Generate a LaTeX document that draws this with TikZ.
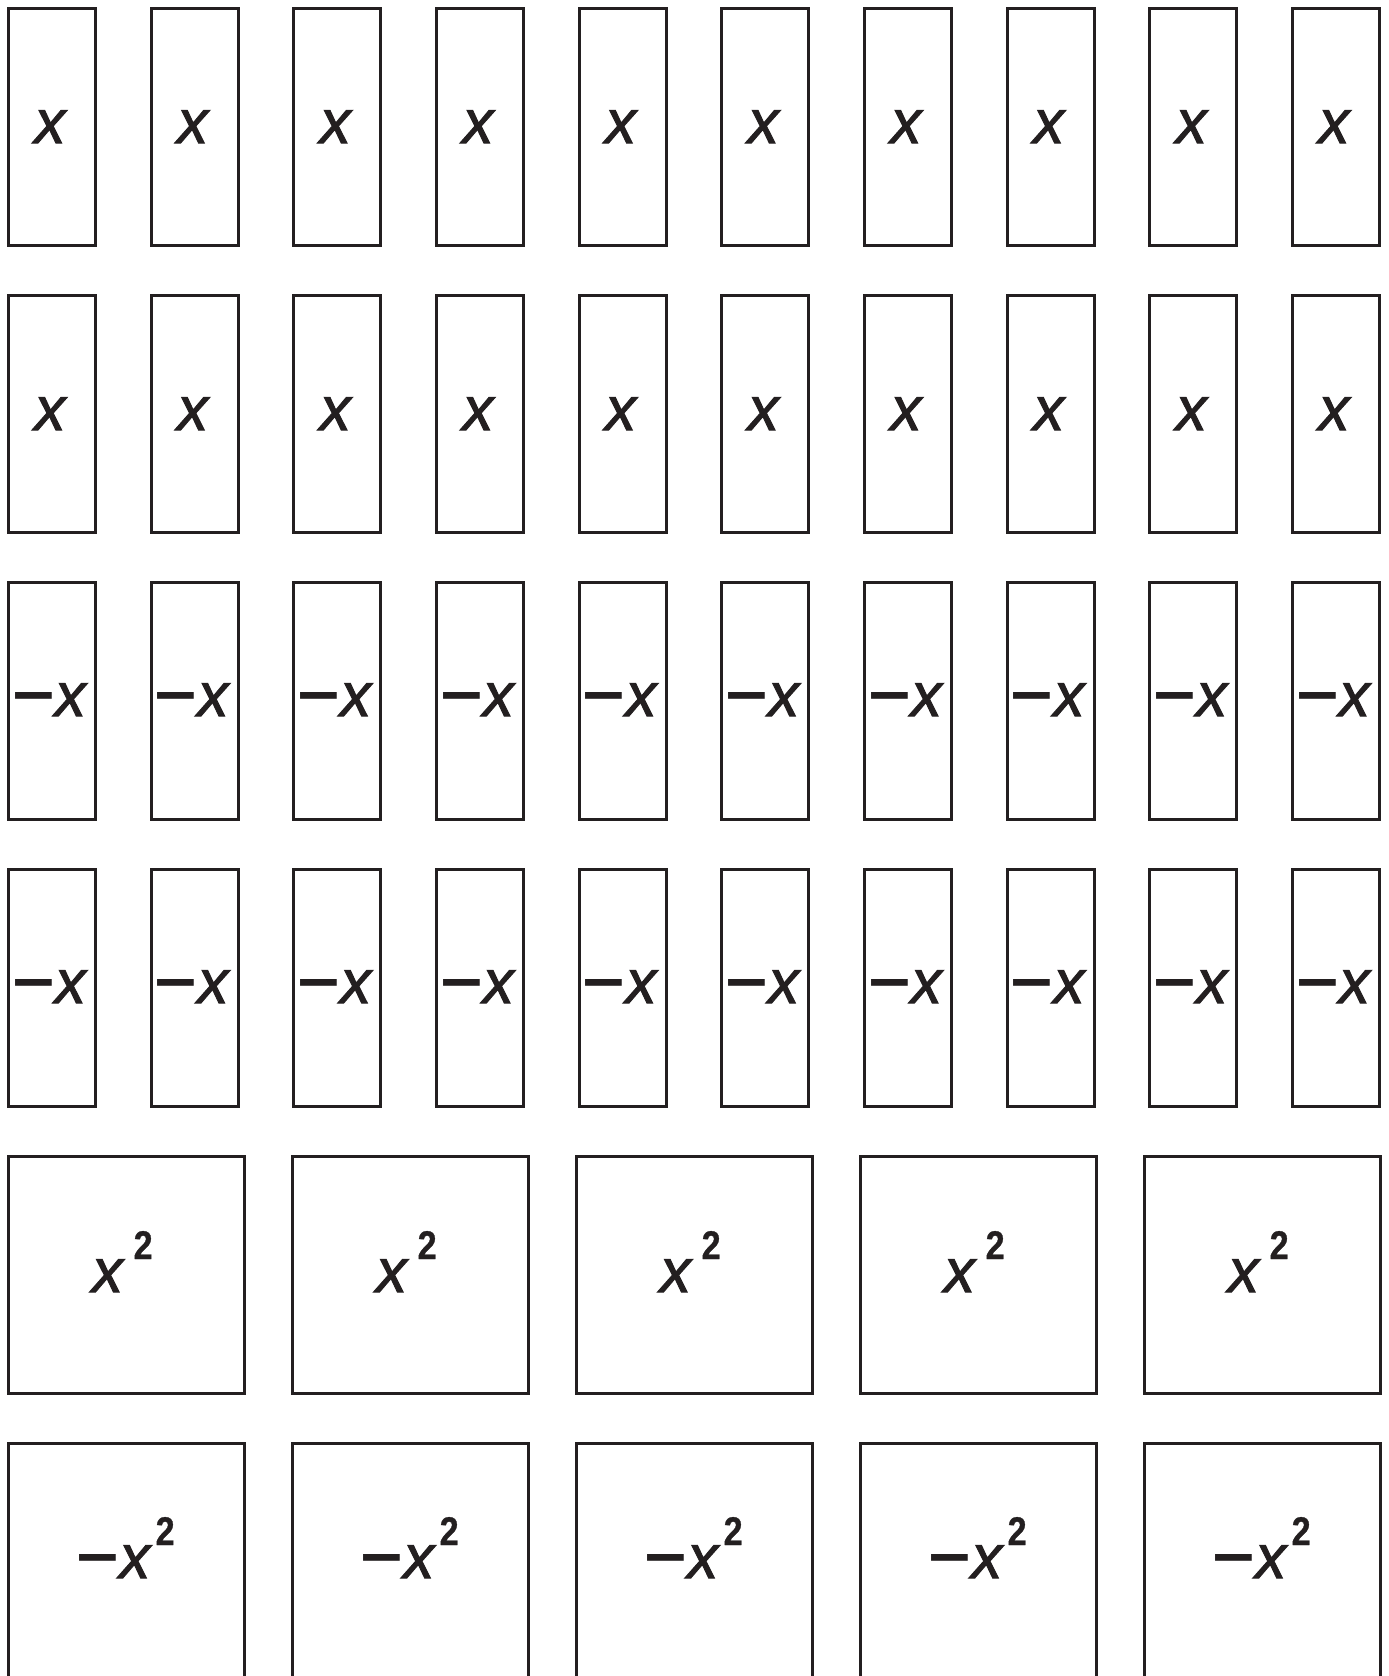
\documentclass[tikz,border=0pt]{standalone}
\usepackage{fontspec}
\setmainfont{Liberation Sans}
\newfontfamily\xfont{Liberation Sans}[FakeBold=1.6]
\newfontfamily\minusfont{Liberation Sans}[FakeStretch=1.18]
\newfontfamily\digitfont{Liberation Sans}[FakeStretch=0.85,FakeBold=0.8]
\definecolor{ink}{HTML}{231F20}
\newcommand{\mns}{{\minusfont\upshape\bfseries\symbol{"2212}}}
\begin{document}
\begin{tikzpicture}[x=1pt,y=-1pt,
  tile/.style={draw=ink, line width=3pt, inner sep=0pt, fill=white},
  rtile/.style={tile, minimum width=87pt, minimum height=237pt},
  stile/.style={tile, minimum width=236pt, minimum height=237pt},
  xlbl/.style={inner sep=0pt, text=ink, font=\fontsize{62}{62}\selectfont\xfont\itshape},
  twolbl/.style={inner sep=0pt, text=ink, anchor=base west, font=\fontsize{40}{40}\selectfont\digitfont\bfseries}
]
\useasboundingbox (0,0) rectangle (1389,1676);
\clip (0,0) rectangle (1389,1676);
\fill[white] (0,0) rectangle (1389,1676);
% rows of x and -x tiles
\foreach \i in {0,...,9} {
  \pgfmathsetmacro\cx{52+142.67*\i}
  \node[rtile] (a\i) at (\cx,127) {};
  \node[xlbl, anchor=base] (ta\i) at (\cx-2,143) {x};
  \node[rtile] (b\i) at (\cx,414) {};
  \node[xlbl, anchor=base] (tb\i) at (\cx-2,430) {x};
  \node[rtile] (c\i) at (\cx,701) {};
  \node[xlbl, anchor=base] (tc\i) at (\cx-3,716) {\mns x};
  \node[rtile] (d\i) at (\cx,988) {};
  \node[xlbl, anchor=base] (td\i) at (\cx-3,1003) {\mns x};
}
% squares
\foreach \i in {0,...,4} {
  \pgfmathsetmacro\cx{126.5+284*\i}
  \node[stile] (e\i) at (\cx,1275) {};
  \node[xlbl, anchor=base] (te\i) at (\cx-19,1292) {x};
  \node[twolbl] (se\i) at (\cx+7,1259) {2};
  \node[stile] (f\i) at (\cx,1562) {};
  \node[xlbl, anchor=base east] (tf\i) at (\cx+24,1578) {\mns x};
  \node[twolbl] (sf\i) at (\cx+29,1545) {2};
}
\end{tikzpicture}
\end{document}
